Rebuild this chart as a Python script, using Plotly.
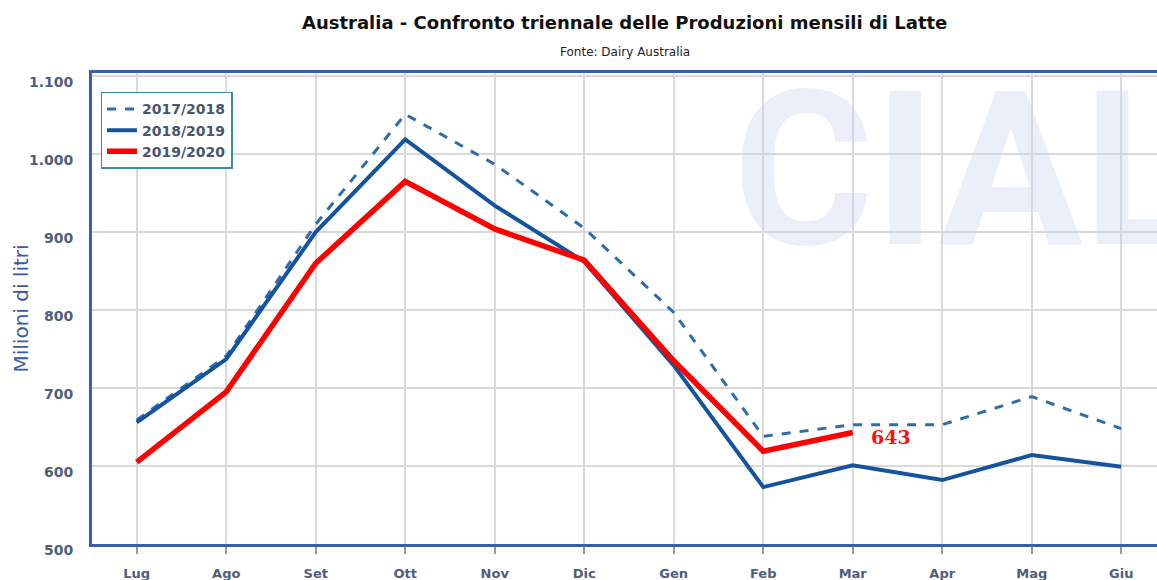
import plotly.graph_objects as go

months = ["Lug", "Ago", "Set", "Ott", "Nov", "Dic", "Gen", "Feb", "Mar", "Apr", "Mag", "Giu"]
s2017 = [659, 741, 910, 1051, 987, 905, 797, 638, 653, 653, 689, 648]
s2018 = [656, 737, 900, 1019, 934, 862, 729, 573, 601, 582, 614, 599]
s2019 = [605, 695, 860, 965, 904, 864, 735, 619, 643]
names = ["2017/2018", "2018/2019", "2019/2020"]

font_family = "DejaVu Sans, Verdana, sans-serif"
axis_blue = "#3d5ea8"
tick_col = "#4f5d7e"

fig = go.Figure()
fig.add_trace(go.Scatter(x=months, y=s2017, name=names[0], mode="lines",
                         line=dict(color="#2f6cab", width=3, dash="dash")))
fig.add_trace(go.Scatter(x=months, y=s2018, name=names[1], mode="lines",
                         line=dict(color="#14549e", width=4)))
fig.add_trace(go.Scatter(x=months[:len(s2019)], y=s2019, name=names[2], mode="lines",
                         line=dict(color="#ff0000", width=5.5)))

# last value label
fig.add_annotation(x=months[len(s2019) - 1], y=s2019[-1], text="<b>%d</b>" % s2019[-1],
                   showarrow=False, xanchor="left", xshift=16, yshift=-5,
                   font=dict(color="#ff1010", size=19, family="DejaVu Serif, serif"))

# watermark
fig.add_annotation(xref="paper", yref="paper", x=0.6, y=1.0, xanchor="left", yanchor="top",
                   yshift=30, text="<b>CIAL</b>", showarrow=False,
                   font=dict(size=215, color="rgba(200,212,238,0.38)",
                             family="Liberation Sans Narrow, Roboto, sans-serif"))

# title & subtitle
fig.add_annotation(xref="paper", yref="paper", x=0.5, y=1.0, xanchor="center", yanchor="bottom",
                   yshift=38, text="<b>Australia - Confronto triennale delle Produzioni mensili di Latte</b>",
                   showarrow=False, font=dict(size=18, color="#111111", family=font_family))
fig.add_annotation(xref="paper", yref="paper", x=0.5, y=1.0, xanchor="center", yanchor="bottom",
                   yshift=12, text="Fonte: Dairy Australia",
                   showarrow=False, font=dict(size=12, color="#222222", family=font_family))

# y axis title
fig.add_annotation(xref="paper", yref="paper", x=-0.0676, y=0.5, xanchor="center", yanchor="middle",
                   text="Milioni di litri", textangle=-90, showarrow=False,
                   font=dict(size=20, color="#3b5aa3", family=font_family))

fig.update_layout(
    width=1157, height=580,
    margin=dict(l=92, r=0, t=73, b=36),
    paper_bgcolor="white", plot_bgcolor="white",
    separators=",.",
    font=dict(family=font_family),
    legend=dict(x=0.008, y=0.96, xanchor="left", yanchor="top",
                bgcolor="white", bordercolor="#3a8ca6", borderwidth=1.5,
                font=dict(size=14, color="#4a5570", family=font_family, weight="bold"),
                itemwidth=30, tracegroupgap=0),
    showlegend=True,
)

fig.update_xaxes(
    type="category", range=[-0.5, 11.4], automargin=False,
    showgrid=True, gridcolor="#d9d9d9", gridwidth=1.5,
    showline=True, linecolor=axis_blue, linewidth=3, mirror=True,
    ticks="outside", ticklen=7, tickcolor="#999999", tickwidth=1.5,
    ticklabelstandoff=8,
    tickfont=dict(size=13, color=tick_col, family=font_family, weight="bold"),
)
fig.update_yaxes(
    range=[500, 1104], tickvals=[500, 600, 700, 800, 900, 1000, 1100], tickformat=",d",
    automargin=False,
    showgrid=True, gridcolor="#d9d9d9", gridwidth=1.5,
    showline=True, linecolor=axis_blue, linewidth=3, mirror=True,
    ticks="", ticklabelstandoff=13, ticklabelshift=6, zeroline=False,
    tickfont=dict(size=14, color=tick_col, family=font_family, weight="bold"),
)

fig.write_html("out.html", config={"displayModeBar": False},
               post_script="document.body.style.margin='0px';")
